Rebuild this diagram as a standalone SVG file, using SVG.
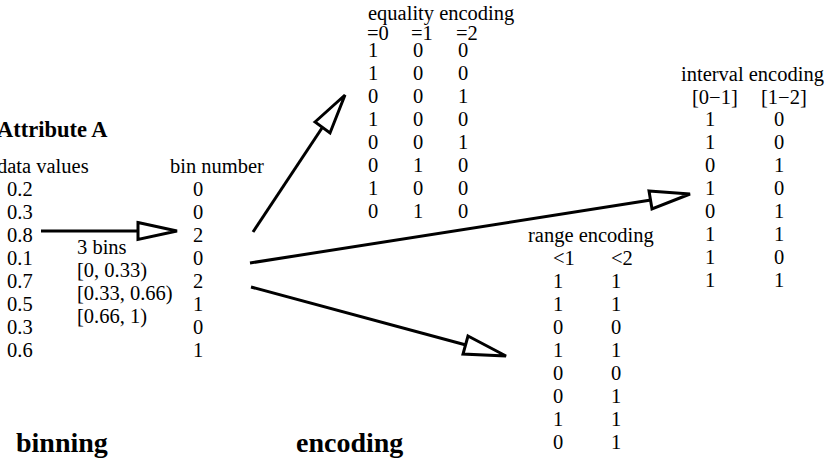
<svg xmlns="http://www.w3.org/2000/svg" width="826" height="465" viewBox="0 0 826 465">
<style>
text{font-family:"Liberation Serif","Times New Roman",serif;font-size:20.5px;fill:#000}
.b{font-weight:bold;font-size:28px}
.h{font-weight:bold;font-size:22.5px}
.c{text-anchor:middle}
.ln{stroke:#000;stroke-width:3;fill:none}
.hd{stroke:#000;stroke-width:3;fill:#fff;stroke-linejoin:miter}
</style>
<rect width="826" height="465" fill="#fff"/>
<g id="attribute">
<text class="h" x="-3" y="137">Attribute A</text>
<text x="-3" y="173">data values</text>
<text x="7" y="196">0.2</text><text x="7" y="219">0.3</text><text x="7" y="242">0.8</text><text x="7" y="265">0.1</text>
<text x="7" y="288">0.7</text><text x="7" y="311">0.5</text><text x="7" y="334">0.3</text><text x="7" y="357">0.6</text>
</g>
<g id="bins">
<text x="77" y="254">3 bins</text>
<text x="77" y="277">[0, 0.33)</text>
<text x="77" y="300">[0.33, 0.66)</text>
<text x="77" y="323">[0.66, 1)</text>
</g>
<g id="binnumber">
<text x="170" y="173">bin number</text>
<g class="c">
<text x="198" y="196">0</text><text x="198" y="219">0</text><text x="198" y="242">2</text><text x="198" y="265">0</text>
<text x="198" y="288">2</text><text x="198" y="311">1</text><text x="198" y="334">0</text><text x="198" y="357">1</text>
</g>
</g>
<g id="equality">
<text x="368" y="20">equality encoding</text>
<text x="367" y="40">=0</text><text x="411" y="40">=1</text><text x="456" y="40">=2</text>
<g class="c">
<text x="373" y="57">1</text><text x="418" y="57">0</text><text x="463" y="57">0</text>
<text x="373" y="80">1</text><text x="418" y="80">0</text><text x="463" y="80">0</text>
<text x="373" y="103">0</text><text x="418" y="103">0</text><text x="463" y="103">1</text>
<text x="373" y="126">1</text><text x="418" y="126">0</text><text x="463" y="126">0</text>
<text x="373" y="149">0</text><text x="418" y="149">0</text><text x="463" y="149">1</text>
<text x="373" y="172">0</text><text x="418" y="172">1</text><text x="463" y="172">0</text>
<text x="373" y="195">1</text><text x="418" y="195">0</text><text x="463" y="195">0</text>
<text x="373" y="218">0</text><text x="418" y="218">1</text><text x="463" y="218">0</text>
</g>
</g>
<g id="interval">
<text x="681" y="81">interval encoding</text>
<text x="692" y="104">[0−1]</text><text x="761" y="104">[1−2]</text>
<g class="c">
<text x="710" y="126">1</text><text x="779" y="126">0</text>
<text x="710" y="149">1</text><text x="779" y="149">0</text>
<text x="710" y="172">0</text><text x="779" y="172">1</text>
<text x="710" y="195">1</text><text x="779" y="195">0</text>
<text x="710" y="218">0</text><text x="779" y="218">1</text>
<text x="710" y="241">1</text><text x="779" y="241">1</text>
<text x="710" y="264">1</text><text x="779" y="264">0</text>
<text x="710" y="287">1</text><text x="779" y="287">1</text>
</g>
</g>
<g id="range">
<text x="528" y="242">range encoding</text>
<text x="553" y="265">&lt;1</text><text x="611" y="265">&lt;2</text>
<g class="c">
<text x="558" y="288">1</text><text x="616" y="288">1</text>
<text x="558" y="311">1</text><text x="616" y="311">1</text>
<text x="558" y="334">0</text><text x="616" y="334">0</text>
<text x="558" y="357">1</text><text x="616" y="357">1</text>
<text x="558" y="380">0</text><text x="616" y="380">0</text>
<text x="558" y="403">0</text><text x="616" y="403">1</text>
<text x="558" y="426">1</text><text x="616" y="426">1</text>
<text x="558" y="449">0</text><text x="616" y="449">1</text>
</g>
</g>
<g id="labels">
<text class="b" x="16" y="452">binning</text>
<text class="b" x="296" y="452">encoding</text>
</g>
<g id="connectors">
<line class="ln" x1="41" y1="231" x2="138" y2="231"/>
<polygon class="hd" points="138,222.5 177,231 138,239.5"/>
<line class="ln" x1="253" y1="232" x2="322" y2="128"/>
<polygon class="hd" points="315,122 345,95 330,133"/>
<line class="ln" x1="250" y1="263" x2="651" y2="200"/>
<polygon class="hd" points="649,191 690,194 652,209"/>
<line class="ln" x1="251" y1="287" x2="466" y2="345"/>
<polygon class="hd" points="468,336 506,356 463,354"/>
</g>
</svg>
